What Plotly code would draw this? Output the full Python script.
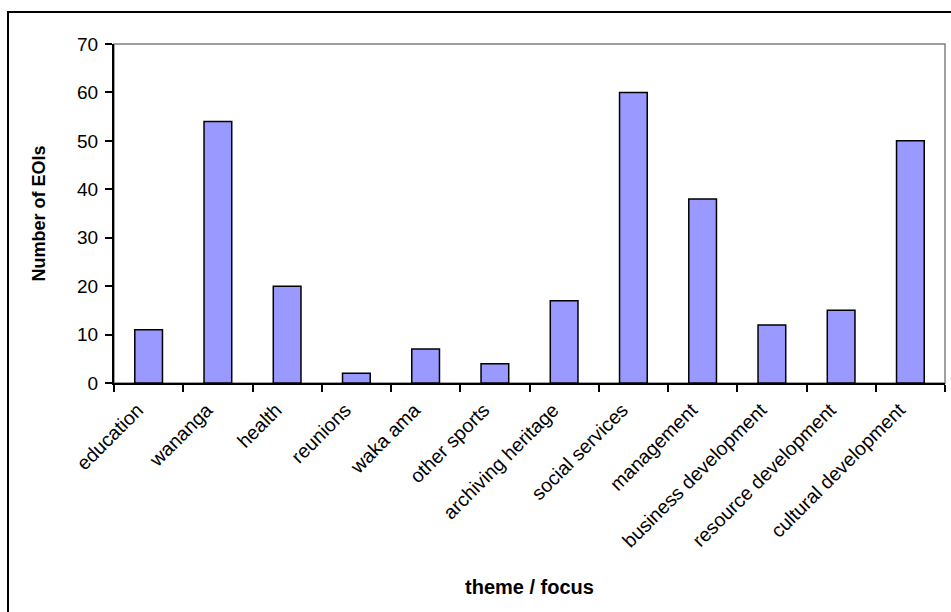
import plotly.graph_objects as go

# Expressions of interest grouped by theme
themes = [
    "education", "wananga", "health", "reunions", "waka ama", "other sports",
    "archiving heritage", "social services", "management",
    "business development", "resource development", "cultural development",
]
eoi_counts = [11, 54, 20, 2, 7, 4, 17, 60, 38, 12, 15, 50]

y_ticks = [0, 10, 20, 30, 40, 50, 60, 70]

W, H = 951, 612
L, R, T, B = 114, 6, 44, 229
pw, ph = W - L - R, H - T - B

def px_x(x):
    return (x - L) / pw

def px_y(y):
    return (H - B - y) / ph

font = dict(family="Liberation Sans, Arial, sans-serif", color="black")

fig = go.Figure(
    go.Bar(
        x=themes,
        y=eoi_counts,
        marker=dict(color="#9999FF", line=dict(color="black", width=1.5)),
        width=0.4,
    )
)

fig.update_layout(
    width=W,
    height=H,
    margin=dict(l=L, r=R, t=T, b=B, pad=0),
    paper_bgcolor="white",
    plot_bgcolor="white",
    showlegend=False,
    font=dict(size=19, **font),
    shapes=[
        # plot area border
        dict(type="rect", xref="paper", yref="paper", x0=0, x1=1, y0=0, y1=1,
             line=dict(color="#808080", width=1.5), layer="below"),
        # chart frame
        dict(type="rect", xref="paper", yref="paper",
             x0=px_x(8), x1=px_x(975), y0=px_y(640), y1=px_y(12),
             line=dict(color="black", width=2), layer="above"),
    ],
)

fig.update_xaxes(
    type="category",
    tickangle=-45,
    ticks="outside",
    tickson="boundaries",
    ticklen=7,
    tickwidth=2,
    tickcolor="black",
    showline=True,
    linecolor="black",
    linewidth=2,
    showgrid=False,
    tickfont=dict(size=19.5, **font),
    ticklabelstandoff=6,
    ticklabelshift=-11,
    title=dict(text="<b>theme / focus</b>", font=dict(size=20, **font), standoff=29),
    automargin=False,
    range=[-0.5, len(themes) - 0.5],
)

fig.update_yaxes(
    range=[0, 70],
    tickvals=y_ticks,
    ticks="outside",
    ticklen=7,
    tickwidth=2,
    tickcolor="black",
    showline=True,
    linecolor="black",
    linewidth=2,
    showgrid=False,
    zeroline=False,
    tickfont=dict(size=19, **font),
    ticklabelstandoff=3,
    title=dict(text="<b>Number of EOIs</b>", font=dict(size=18, **font), standoff=27),
    automargin=False,
)

fig.write_html("out.html")
